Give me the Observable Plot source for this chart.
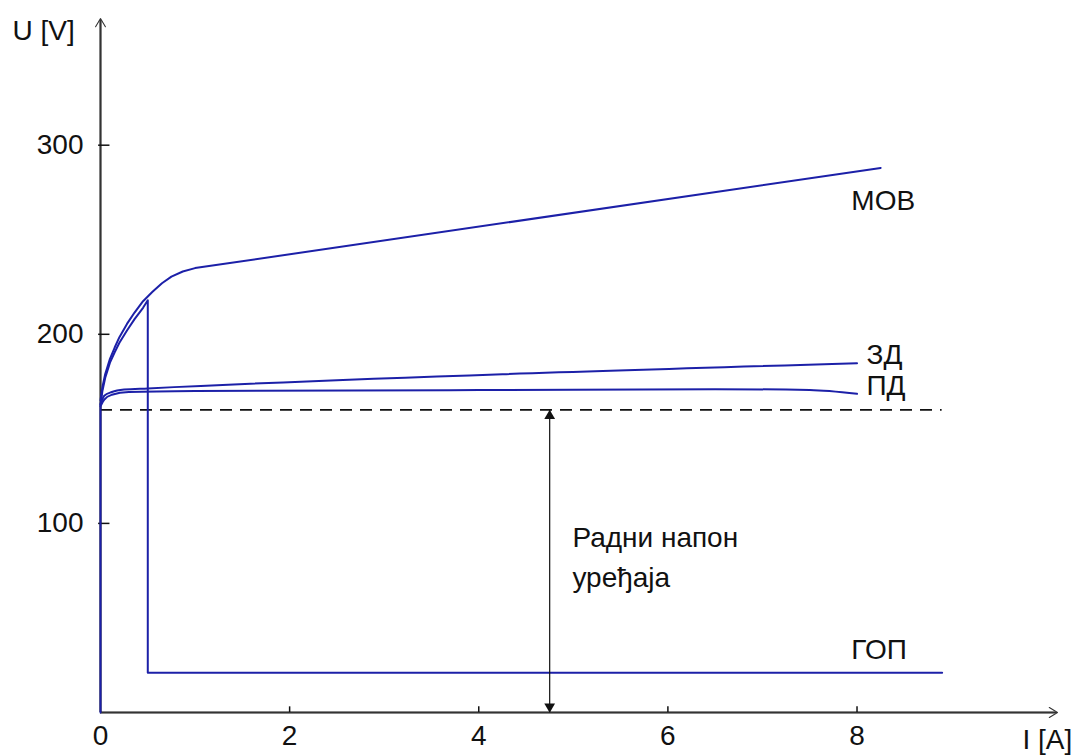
<!DOCTYPE html>
<html>
<head>
<meta charset="utf-8">
<script src="https://cdn.jsdelivr.net/npm/d3@7"></script>
<script src="https://cdn.jsdelivr.net/npm/@observablehq/plot@0.6"></script>
<style>
  html, body { margin: 0; padding: 0; background: #fff; }
  #chart svg { display: block; }
</style>
</head>
<body>
<div id="chart"></div>
<script>
// ---- data ----
const movI = [0, 0.02, 0.05, 0.1, 0.15, 0.2, 0.28, 0.36, 0.45, 0.55, 0.65, 0.75, 0.87, 1.0, 8.25];
const movU = [165, 172, 179, 187, 193, 198.5, 205.5, 211.5, 217.5, 222.5, 227, 230.5, 233.2, 235, 288];

const gopI = [0, 0, 0.02, 0.05, 0.1, 0.15, 0.2, 0.28, 0.36, 0.45, 0.5, 0.5, 8.9];
const gopU = [0, 163, 170, 177, 185, 190.5, 195.5, 202, 208, 214, 218, 21, 21];

const zdI = [0, 0.04, 0.12, 0.25, 0.5, 8.0];
const zdU = [163, 167.5, 169.5, 170.8, 171.4, 184.7];

const pdI = [0, 0.04, 0.12, 0.3, 1, 4, 6.5, 7.5, 8.0];
const pdU = [162, 165.5, 168, 169.5, 170, 170.5, 171, 170.5, 168.5];

const workVoltage = 160;
const workLineEnd = 8.9;
const workArrowI = 4.75;

const xTicks = [0, 2, 4, 6, 8];
const yTicks = [100, 200, 300];

const curveNames = ["МОВ", "ЗД", "ПД", "ГОП"];
const curveLabelI = [7.94, 8.1, 8.1, 7.94];
const curveLabelU = [270.5, 188.8, 172.4, 32.8];

const noteLines = ["Радни напон", "уређаја"];
const noteI = [4.99, 4.99];
const noteU = [92, 71];

const axisTitles = ["U [V]", "I [A]"];
const axisTitleI = [-0.93, 9.75];
const axisTitleU = [360.5, -14.8];

const xMax = 10.12;
const yMax = 367;

// ---- build ----
const zip = (xs, ys) => xs.map((x, i) => ({x, y: ys[i]}));
const blue = "#1c20a8";
const font = "Liberation Sans, Arial, sans-serif";

const chart = Plot.plot({
  width: 1078,
  height: 756,
  marginLeft: 100,
  marginRight: 21,
  marginTop: 18,
  marginBottom: 44,
  style: {fontFamily: font, background: "#fff"},
  x: {domain: [0, xMax], axis: null},
  y: {domain: [0, yMax], axis: null},
  marks: [
    // axes with open arrowheads
    Plot.ruleY([0], {x1: 0, x2: xMax * 0.998, stroke: "#111", strokeWidth: 2}),
    Plot.ruleX([0], {y1: 0, y2: yMax * 0.997, stroke: "#111", strokeWidth: 2}),
    Plot.arrow([{x1: 0, y1: 0, x2: xMax, y2: 0}], {x1: "x1", y1: "y1", x2: "x2", y2: "y2", stroke: "#333", strokeWidth: 1.1, headLength: 13, headAngle: 62}),
    Plot.arrow([{x1: 0, y1: 0, x2: 0, y2: yMax}], {x1: "x1", y1: "y1", x2: "x2", y2: "y2", stroke: "#333", strokeWidth: 1.1, headLength: 13, headAngle: 62}),
    // tick marks
    Plot.ruleX(xTicks.filter(d => d > 0), {x: d => d, y1: 0, y2: 3, stroke: "#111", strokeWidth: 1.5}),
    Plot.ruleY(yTicks, {y: d => d, x1: -0.02, x2: 0.1, stroke: "#111", strokeWidth: 1.5}),
    // tick labels
    Plot.text(xTicks, {x: d => d, y: 0, text: d => String(d), dy: 24, fontSize: 28, fill: "#111"}),
    Plot.text(yTicks, {x: 0, y: d => d, text: d => String(d), dx: -17, textAnchor: "end", fontSize: 28, fill: "#111"}),
    // working voltage dashed line
    Plot.ruleY([workVoltage], {x1: 0, x2: workLineEnd, stroke: "#111", strokeWidth: 1.8, strokeDasharray: "12,8"}),
    // curves
    Plot.line(zip(gopI, gopU), {x: "x", y: "y", stroke: blue, strokeWidth: 2, curve: "linear"}),
    Plot.line(zip(movI, movU), {x: "x", y: "y", stroke: blue, strokeWidth: 2, curve: "linear"}),
    Plot.line(zip(zdI, zdU), {x: "x", y: "y", stroke: blue, strokeWidth: 2, curve: "monotone-x"}),
    Plot.line(zip(pdI, pdU), {x: "x", y: "y", stroke: blue, strokeWidth: 2, curve: "monotone-x"}),
    // double arrow for working voltage
    Plot.ruleX([workArrowI], {x: d => d, y1: 0, y2: workVoltage, stroke: "#111", strokeWidth: 1.2}),
    Plot.dot([workArrowI], {x: d => d, y: workVoltage, symbol: "triangle", r: 4, fill: "#111", stroke: null, dy: 6}),
    Plot.dot([workArrowI], {x: d => d, y: 0, symbol: "triangle", r: 4, fill: "#111", stroke: null, rotate: 180, dy: -6}),
    // labels
    Plot.text(curveNames, {x: (d, i) => curveLabelI[i], y: (d, i) => curveLabelU[i], text: d => d, textAnchor: "start", fontSize: 28, fill: "#111"}),
    Plot.text(noteLines, {x: (d, i) => noteI[i], y: (d, i) => noteU[i], text: d => d, textAnchor: "start", fontSize: 28, fill: "#111"}),
    Plot.text(axisTitles, {x: (d, i) => axisTitleI[i], y: (d, i) => axisTitleU[i], text: d => d, textAnchor: "start", fontSize: 28, fill: "#111"})
  ]
});
document.getElementById("chart").appendChild(chart);
</script>
</body>
</html>
